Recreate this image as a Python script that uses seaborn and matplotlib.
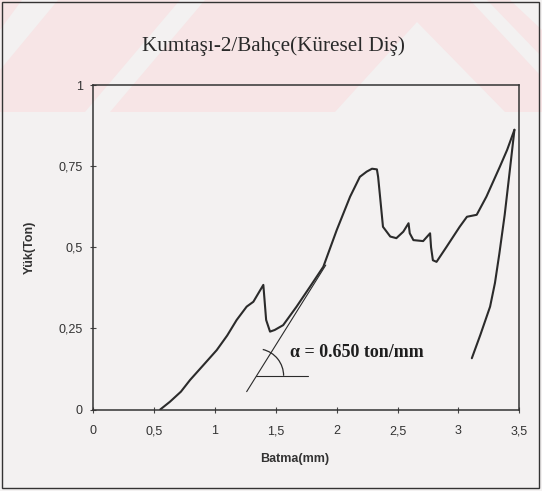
import numpy as np
import pandas as pd
import seaborn as sns
import matplotlib
import matplotlib.pyplot as plt
from matplotlib.patches import Arc, Polygon, Rectangle

matplotlib.use('Agg')

# Data (Batma in mm, Yük in ton)
load_x = [0.55, 0.63, 0.72, 0.795, 0.90, 1.014, 1.10, 1.178, 1.26, 1.315, 1.397,
          1.42, 1.452, 1.49, 1.56, 1.67, 1.78, 1.89, 2.0, 2.11, 2.19, 2.246, 2.29,
          2.33, 2.34, 2.356, 2.38, 2.44, 2.49, 2.547, 2.59, 2.60, 2.63, 2.71,
          2.767, 2.775, 2.79, 2.82, 2.9, 3.01, 3.07, 3.15, 3.23, 3.34, 3.40, 3.46]
load_y = [0.0, 0.024, 0.055, 0.091, 0.135, 0.183, 0.228, 0.276, 0.317, 0.332, 0.384,
          0.276, 0.24, 0.245, 0.26, 0.317, 0.378, 0.44, 0.553, 0.656, 0.717, 0.733, 0.742,
          0.74, 0.717, 0.656, 0.563, 0.533, 0.528, 0.548, 0.574, 0.543, 0.522, 0.519,
          0.543, 0.50, 0.46, 0.455, 0.50, 0.563, 0.594, 0.60, 0.656, 0.748, 0.80, 0.862]

unload_x = [3.46, 3.42, 3.38, 3.336, 3.30, 3.26, 3.18, 3.11]
unload_y = [0.862, 0.73, 0.60, 0.48, 0.39, 0.317, 0.23, 0.158]

# tangent line used for the slope annotation
tangent_x = [1.26, 1.91]
tangent_y = [0.055, 0.445]
base_x = [1.335, 1.76]
base_y = [0.104, 0.104]
slope_label = "\u03b1 = 0.650 ton/mm"

x_ticks = [0, 0.5, 1, 1.5, 2, 2.5, 3, 3.5]
x_labels = ['0', '0,5', '1', '1,5', '2', '2,5', '3', '3,5']
y_ticks = [0, 0.25, 0.5, 0.75, 1]
y_labels = ['0', '0,25', '0,5', '0,75', '1']

title = "Kumtaşı-2/Bahçe(Küresel Diş)"

sns.set_style('ticks')
plt.rcParams['font.family'] = ['Liberation Sans', 'DejaVu Sans']

W, H = 542, 491
bg = '#f3f1f1'
fig = plt.figure(figsize=(W / 100, H / 100), dpi=100, facecolor=bg)

# faint pink watermark band at the top of the scan
def px_poly(pts, color):
    xy = [(x / W, 1 - y / H) for x, y in pts]
    fig.patches.append(Polygon(xy, closed=True, transform=fig.transFigure,
                               facecolor=color, edgecolor='none', zorder=-2))

pink = '#f7e5e6'
px_poly([(0, 0), (W, 0), (W, 112), (0, 112)], pink)
px_poly([(22, 0), (58, 0), (0, 70), (0, 30)], bg)
px_poly([(180, 0), (205, 0), (110, 112), (85, 112)], bg)
px_poly([(417, 22), (505, 112), (335, 112)], bg)
px_poly([(470, 0), (487, 0), (540, 55), (540, 75)], bg)
px_poly([(510, 0), (542, 0), (542, 30)], bg)

# outer chart border
fig.patches.append(Rectangle((2 / W, 3 / H), 537 / W, 486 / H, transform=fig.transFigure,
                             fill=False, edgecolor='#333333', linewidth=1.0, zorder=-1))

ax = fig.add_axes([93.3 / W, 1 - 409.5 / H, 426 / W, 324.5 / H])
ax.set_facecolor('none')

line_col = '#2b2b2b'
load_df = pd.DataFrame({'x': load_x, 'y': load_y})
unload_df = pd.DataFrame({'x': unload_x, 'y': unload_y})
sns.lineplot(data=load_df, x='x', y='y', sort=False, estimator=None,
             color=line_col, linewidth=1.5, ax=ax)
sns.lineplot(data=unload_df, x='x', y='y', sort=False, estimator=None,
             color=line_col, linewidth=1.5, ax=ax)

ax.plot(tangent_x, tangent_y, color=line_col, linewidth=0.8)
ax.plot(base_x, base_y, color=line_col, linewidth=0.8)

# angle arc at the intersection of tangent and base line
cx = tangent_x[0] + (base_y[0] - tangent_y[0]) * (tangent_x[1] - tangent_x[0]) / (tangent_y[1] - tangent_y[0])
r_px = 27
ang = np.degrees(np.arctan2((tangent_y[1] - tangent_y[0]) * 324.5, (tangent_x[1] - tangent_x[0]) * 121.7))
ax.add_patch(Arc((cx, base_y[0]), 2 * r_px / 121.7, 2 * r_px / 324.5, theta1=0, theta2=ang,
                 color=line_col, linewidth=0.9))

ax.text(1.616, 0.175, slope_label, family=['Liberation Serif', 'DejaVu Serif'],
        fontweight='bold', fontsize=13, color='#1e1e1e', ha='left', va='center')

ax.set_xlim(0, 3.5)
ax.set_ylim(0, 1)
ax.set_xticks(x_ticks)
ax.set_xticklabels(x_labels)
ax.set_yticks(y_ticks)
ax.set_yticklabels(y_labels)
ax.tick_params(axis='both', direction='inout', length=5, width=0.8, colors='#444444',
               labelsize=9, labelcolor='#333333')
ax.tick_params(axis='x', pad=9)
ax.tick_params(axis='y', pad=5)
for s in ax.spines.values():
    s.set_visible(True)
    s.set_color('#333333')
    s.set_linewidth(1.1)

ax.set_xlabel('Batma(mm)', fontsize=9, fontweight='bold', color='#333333')
ax.set_ylabel('Yük(Ton)', fontsize=9, fontweight='bold', color='#333333')
ax.xaxis.set_label_coords((295 - 93.3) / 426, -0.134)
ax.yaxis.set_label_coords(-0.1345, 0.5)

fig.text(273 / W, 1 - 46 / H, title, family=['Liberation Serif', 'DejaVu Serif'],
         fontsize=15.2, color='#2a2a2a', ha='center', va='center')

fig.savefig('out.png', dpi=100, facecolor=bg)
